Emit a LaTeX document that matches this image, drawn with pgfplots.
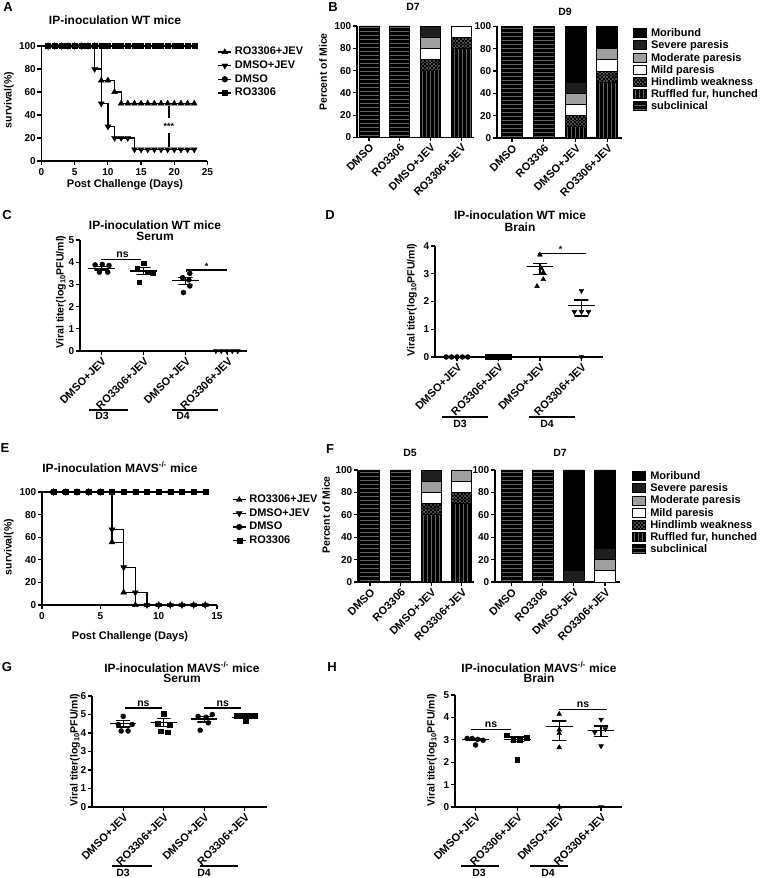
\documentclass[border=0pt]{standalone}
\usepackage{pgfplots}
\pgfplotsset{compat=1.18}
\usepackage{fontspec}
\setmainfont{Liberation Sans}
\newcommand{\fs}[1]{\fontsize{#1}{#1}\selectfont\bfseries}
\newcommand{\ppsw}{\pgfpointanchor{path picture bounding box}{south west}}
\newcommand{\ppse}{\pgfpointanchor{path picture bounding box}{south east}}
\newcommand{\ppnw}{\pgfpointanchor{path picture bounding box}{north west}}
\tikzset{
  hstripes/.style={path picture={%
    \pgfsetlinewidth{0.6pt}\pgfsetstrokecolor{black!62}%
    \foreach \k in {0,...,36}{%
      \pgfpathmoveto{\pgfpointadd{\ppsw}{\pgfpoint{0pt}{\k*4pt+2pt}}}%
      \pgfpathlineto{\pgfpointadd{\ppse}{\pgfpoint{0pt}{\k*4pt+2pt}}}%
      \pgfusepath{stroke}}}},
  vstripes/.style={path picture={%
    \pgfsetlinewidth{0.6pt}\pgfsetstrokecolor{black!62}%
    \foreach \k in {0,...,36}{%
      \pgfpathmoveto{\pgfpointadd{\ppsw}{\pgfpoint{\k*4pt+2pt}{0pt}}}%
      \pgfpathlineto{\pgfpointadd{\ppnw}{\pgfpoint{\k*4pt+2pt}{0pt}}}%
      \pgfusepath{stroke}}}},
  checks/.style={path picture={%
    \pgfsetlinewidth{1.8pt}\pgfsetstrokecolor{black!72}%
    \foreach \k in {0,2,...,66}{%
      \pgfsetdash{{1.8pt}{1.8pt}}{0pt}%
      \pgfpathmoveto{\pgfpointadd{\ppsw}{\pgfpoint{0pt}{\k*1.8pt+0.9pt}}}%
      \pgfpathlineto{\pgfpointadd{\ppse}{\pgfpoint{0pt}{\k*1.8pt+0.9pt}}}%
      \pgfusepath{stroke}}%
    \foreach \k in {1,3,...,67}{%
      \pgfsetdash{{1.8pt}{1.8pt}}{1.8pt}%
      \pgfpathmoveto{\pgfpointadd{\ppsw}{\pgfpoint{0pt}{\k*1.8pt+0.9pt}}}%
      \pgfpathlineto{\pgfpointadd{\ppse}{\pgfpoint{0pt}{\k*1.8pt+0.9pt}}}%
      \pgfusepath{stroke}}}},
}
\pgfplotsset{
  gp/.style={scale only axis, anchor=south west,
    axis x line=bottom, axis y line=left,
    axis line style={line width=1.3pt,-},
    tick style={line width=1.2pt, black},
    major tick length=4pt, tick align=outside, clip=false,
    /pgf/number format/assume math mode=true,
    tick label style={font=\fs{10}},
    yticklabel style={inner sep=1.5pt}},
  surv/.style={gp, ymin=0, ymax=100, ytick={0,20,...,100},
    legend cell align=left,
    legend style={draw=none, fill=none, font=\fs{11}, anchor=north west, inner sep=0pt,
      nodes={inner sep=1pt, text height=7.8pt, text depth=2pt}, row sep=1.8pt, column sep=2pt},
    legend image code/.code={\draw[black, line width=1.3pt] (0pt,0pt) -- (13pt,0pt);
       \draw[#1, sharp plot, mark repeat=1, mark phase=1] plot coordinates {(6.5pt,0pt)};}},
  cur/.style={const plot, line width=1.3pt, black, mark repeat=1, mark phase=2},
  tu/.style={cur, mark=triangle*, mark size=3.4pt, mark options={solid, fill=black, line width=0.4pt}},
  td/.style={cur, mark=triangle*, mark size=3.4pt, mark options={solid, fill=black, line width=0.4pt, rotate=180}},
  ci/.style={cur, mark=*, mark size=2.9pt, mark options={solid, fill=black, line width=0.4pt}},
  sq/.style={cur, mark=square*, mark size=2.5pt, mark options={solid, fill=black, line width=0.4pt}},
  bars/.style={gp, ybar stacked, bar width=20pt, ymin=0, ymax=100, ytick={0,20,...,100},
    xtick={0,1,2,3}, xticklabels={DMSO,RO3306,DMSO+JEV,RO3306+JEV},
    xticklabel style={rotate=45, anchor=north east, inner sep=1pt, font=\fs{11}},
    legend style={draw=none, fill=none, font=\fs{11}, anchor=north west, inner sep=0pt,
      nodes={inner sep=1pt, text height=7.8pt, text depth=2pt}, row sep=0.4pt, column sep=3pt},
    legend cell align=left, reverse legend,
    legend image code/.code={\draw[#1] (0pt,-4pt) rectangle (13pt,5pt);}},
  b/.style={draw=black, line width=0.9pt},
  sub/.style={b, fill=black, hstripes},
  ruf/.style={b, fill=black, vstripes},
  hind/.style={b, fill=black, checks},
  mild/.style={b, fill=white},
  modp/.style={b, fill=gray!75},
  sev/.style={b, fill=black!88},
  mori/.style={b, fill=black},
  scat/.style={gp, ymin=0, xtick={0,1,2,3},
    xticklabels={DMSO+JEV,RO3306+JEV,DMSO+JEV,RO3306+JEV},
    xticklabel style={rotate=45, anchor=north east, inner sep=1pt, font=\fs{11}}},
  pc/.style={only marks, mark=*, mark size=2.5pt, black, mark options={fill=black}},
  ps/.style={only marks, mark=square*, mark size=2.3pt, black, mark options={fill=black}},
  pu/.style={only marks, mark=triangle*, mark size=2.8pt, black, mark options={fill=black}},
  pd/.style={only marks, mark=triangle*, mark size=2.8pt, black, mark options={fill=black, rotate=180}},
  ms/.style={black, line width=1.3pt, mark=none, sharp plot},
}
\begin{document}
\begin{tikzpicture}[x=1pt,y=1pt]
\path[use as bounding box] (0,0) rectangle (760,878);

% ---------------- A ----------------
\begin{axis}[surv, at={(41.5pt,717pt)}, width=166pt, height=115pt, xmin=0, xmax=25, xtick={0,5,...,25},
  legend style={at={(1.06,1.0)}}]
\addplot[tu] coordinates {(0,100)(1,100)(2,100)(3,100)(4,100)(5,100)(6,100)(7,100)(8,100)(9,70)(10,70)(11,60)(12,50)(13,50)(14,50)(15,50)(16,50)(17,50)(18,50)(19,50)(20,50)(21,50)(22,50)(23,50)};
\addlegendentry{RO3306+JEV}
\addplot[td] coordinates {(0,100)(1,100)(2,100)(3,100)(4,100)(5,100)(6,100)(7,100)(8,80)(9,50)(10,30)(11,20)(12,20)(13,20)(14,10)(15,10)(16,10)(17,10)(18,10)(19,10)(20,10)(21,10)(22,10)(23,10)};
\addlegendentry{DMSO+JEV}
\addplot[ci] coordinates {(0,100)(1,100)(2,100)(3,100)(4,100)(5,100)(6,100)(7,100)(8,100)(9,100)(10,100)(11,100)(12,100)(13,100)(14,100)(15,100)(16,100)(17,100)(18,100)(19,100)(20,100)(21,100)(22,100)(23,100)};
\addlegendentry{DMSO}
\addplot[sq] coordinates {(0,100)(1,100)(2,100)(3,100)(4,100)(5,100)(6,100)(7,100)(8,100)(9,100)(10,100)(11,100)(12,100)(13,100)(14,100)(15,100)(16,100)(17,100)(18,100)(19,100)(20,100)(21,100)(22,100)(23,100)};
\addlegendentry{RO3306}
\draw[line width=1.3pt] (axis cs:19.2,48) -- (axis cs:19.2,37);
\draw[line width=1.3pt] (axis cs:19.2,24) -- (axis cs:19.2,12);
\node[font=\fs{9}] at (axis cs:19.2,30) {***};
\end{axis}

% ---------------- B D7 ----------------
\begin{axis}[bars, at={(357pt,740.5pt)}, width=117pt, height=111.5pt, xmin=-0.39, xmax=3.42]
\addplot[sub] coordinates {(0,100)(1,100)(2,0)(3,0)};
\addplot[ruf] coordinates {(0,0)(1,0)(2,60)(3,80)};
\addplot[hind] coordinates {(0,0)(1,0)(2,10)(3,10)};
\addplot[mild] coordinates {(0,0)(1,0)(2,10)(3,10)};
\addplot[modp] coordinates {(0,0)(1,0)(2,10)(3,0)};
\addplot[sev] coordinates {(0,0)(1,0)(2,10)(3,0)};
\addplot[mori] coordinates {(0,0)(1,0)(2,0)(3,0)};
\end{axis}
% ---------------- B D9 ----------------
\begin{axis}[bars, at={(497pt,740pt)}, width=125pt, height=111.5pt, xmin=-0.47, xmax=3.46, bar width=21pt,
  legend style={at={(1.08,0.99)}}]
\addplot[sub] coordinates {(0,100)(1,100)(2,0)(3,0)};
\addlegendentry{subclinical}
\addplot[ruf] coordinates {(0,0)(1,0)(2,10)(3,50)};
\addlegendentry{Ruffled fur, hunched}
\addplot[hind] coordinates {(0,0)(1,0)(2,10)(3,10)};
\addlegendentry{Hindlimb weakness}
\addplot[mild] coordinates {(0,0)(1,0)(2,10)(3,10)};
\addlegendentry{Mild paresis}
\addplot[modp] coordinates {(0,0)(1,0)(2,10)(3,10)};
\addlegendentry{Moderate paresis}
\addplot[sev] coordinates {(0,0)(1,0)(2,10)(3,0)};
\addlegendentry{Severe paresis}
\addplot[mori] coordinates {(0,0)(1,0)(2,50)(3,20)};
\addlegendentry{Moribund}
\end{axis}

% ---------------- C ----------------
\begin{axis}[scat, at={(80pt,527pt)}, width=167pt, height=111pt, xmin=-0.51, xmax=3.46, ymax=5, ytick={0,1,2,3,4,5}]
\addplot[pc] coordinates {(-0.15,3.88)(0.02,3.9)(0.18,3.85)(-0.05,3.55)(0.15,3.55)};
\addplot[ps] coordinates {(1,3.95)(0.85,3.7)(1.1,3.55)(1.22,3.5)(0.9,3.1)};
\addplot[pc] coordinates {(2.1,3.5)(1.93,3.3)(2.08,3.2)(2.1,2.93)(1.95,2.63)};
\addplot[pd] coordinates {(2.72,0)(2.85,0)(2.98,0)(3.11,0)(3.24,0)};
\addplot[ms] coordinates {(-0.17,3.8)(0.17,3.8)(0,3.8)(0,3.65)(-0.17,3.65)(0.17,3.65)(0,3.65)(0,3.72)(-0.32,3.72)(0.32,3.72)};
\addplot[ms] coordinates {(0.83,3.75)(1.17,3.75)(1,3.75)(1,3.45)(0.83,3.45)(1.17,3.45)(1,3.45)(1,3.6)(0.68,3.6)(1.32,3.6)};
\addplot[ms] coordinates {(1.83,3.3)(2.17,3.3)(2,3.3)(2,3.0)(1.83,3.0)(2.17,3.0)(2,3.0)(2,3.17)(1.68,3.17)(2.32,3.17)};
\draw[line width=1.2pt] (axis cs:0,4.13) -- (axis cs:0.95,4.13);
\node[font=\fs{10.5}, anchor=south, inner sep=1.5pt] at (axis cs:0.5,4.13) {ns};
\draw[line width=1.2pt] (axis cs:2.02,3.55) -- (axis cs:2.02,3.65) -- (axis cs:2.98,3.65);
\node[font=\fs{9}, anchor=south, inner sep=0.5pt] at (axis cs:2.5,3.65) {*};
\end{axis}

% ---------------- D ----------------
\begin{axis}[scat, at={(435pt,521pt)}, width=168pt, height=111pt, xmin=-0.53, xmax=3.52, ymax=4, ytick={0,1,2,3,4}]
\addplot[pc] coordinates {(-0.26,0)(-0.13,0)(0,0)(0.13,0)(0.26,0)};
\addplot[ps] coordinates {(0.74,0)(0.87,0)(1,0)(1.13,0)(1.26,0)};
\addplot[pu] coordinates {(2,3.68)(2.03,3.2)(2.08,3.05)(2.08,2.8)(1.93,2.55)};
\addplot[pd] coordinates {(3,2.39)(2.83,1.63)(3,1.63)(3.17,1.63)(3,0)};
\addplot[ms] coordinates {(1.83,3.38)(2.17,3.38)(2,3.38)(2,2.98)(1.83,2.98)(2.17,2.98)(2,2.98)(2,3.25)(1.68,3.25)(2.32,3.25)};
\addplot[ms] coordinates {(2.83,2.05)(3.17,2.05)(3,2.05)(3,1.48)(2.83,1.48)(3.17,1.48)(3,1.48)(3,1.85)(2.68,1.85)(3.32,1.85)};
\draw[line width=1.2pt] (axis cs:1.97,3.64) -- (axis cs:1.97,3.74) -- (axis cs:3.1,3.74);
\node[font=\fs{9}, anchor=south, inner sep=0.5pt] at (axis cs:2.5,3.74) {*};
\end{axis}

% ---------------- E ----------------
\begin{axis}[surv, at={(42pt,273pt)}, width=175pt, height=113pt, xmin=0, xmax=15, xtick={0,5,...,15},
  legend style={at={(1.085,0.985)}}]
\addplot[tu] coordinates {(0,100)(1,100)(2,100)(3,100)(4,100)(5,100)(6,55.6)(7,11.1)(8,0)(9,0)(10,0)(11,0)(12,0)(13,0)(14,0)};
\addlegendentry{RO3306+JEV}
\addplot[td] coordinates {(0,100)(1,100)(2,100)(3,100)(4,100)(5,100)(6,66.7)(7,33.3)(8,11.1)(9,0)(10,0)(11,0)(12,0)(13,0)(14,0)};
\addlegendentry{DMSO+JEV}
\addplot[ci] coordinates {(0,100)(1,100)(2,100)(3,100)(4,100)(5,100)(6,100)(7,100)(8,100)(9,100)(10,100)(11,100)(12,100)(13,100)(14,100)};
\addlegendentry{DMSO}
\addplot[sq] coordinates {(0,100)(1,100)(2,100)(3,100)(4,100)(5,100)(6,100)(7,100)(8,100)(9,100)(10,100)(11,100)(12,100)(13,100)(14,100)};
\addlegendentry{RO3306}
\end{axis}

% ---------------- F D5 ----------------
\begin{axis}[bars, at={(358pt,296pt)}, width=116pt, height=112pt, xmin=-0.39, xmax=3.4]
\addplot[sub] coordinates {(0,100)(1,100)(2,0)(3,0)};
\addplot[ruf] coordinates {(0,0)(1,0)(2,60)(3,70)};
\addplot[hind] coordinates {(0,0)(1,0)(2,10)(3,10)};
\addplot[mild] coordinates {(0,0)(1,0)(2,10)(3,10)};
\addplot[modp] coordinates {(0,0)(1,0)(2,10)(3,10)};
\addplot[sev] coordinates {(0,0)(1,0)(2,10)(3,0)};
\addplot[mori] coordinates {(0,0)(1,0)(2,0)(3,0)};
\end{axis}
% ---------------- F D7 ----------------
\begin{axis}[bars, at={(495pt,296pt)}, width=125pt, height=112pt, xmin=-0.53, xmax=3.48, bar width=21pt,
  legend style={at={(1.09,0.995)}}]
\addplot[sub] coordinates {(0,100)(1,100)(2,0)(3,0)};
\addlegendentry{subclinical}
\addplot[ruf] coordinates {(0,0)(1,0)(2,0)(3,0)};
\addlegendentry{Ruffled fur, hunched}
\addplot[hind] coordinates {(0,0)(1,0)(2,0)(3,0)};
\addlegendentry{Hindlimb weakness}
\addplot[mild] coordinates {(0,0)(1,0)(2,0)(3,10)};
\addlegendentry{Mild paresis}
\addplot[modp] coordinates {(0,0)(1,0)(2,0)(3,10)};
\addlegendentry{Moderate paresis}
\addplot[sev] coordinates {(0,0)(1,0)(2,10)(3,10)};
\addlegendentry{Severe paresis}
\addplot[mori] coordinates {(0,0)(1,0)(2,90)(3,70)};
\addlegendentry{Moribund}
\end{axis}

% ---------------- G ----------------
\begin{axis}[scat, at={(92pt,71pt)}, width=175pt, height=111pt, xmin=-0.77, xmax=3.55, ymax=6, ytick={0,1,2,3,4,5,6}]
\addplot[pc] coordinates {(0,4.9)(-0.12,4.46)(0.22,4.46)(-0.05,4.11)(0.12,4.11)};
\addplot[ps] coordinates {(1,5.05)(0.85,4.5)(1.15,4.45)(0.92,4.1)(1.1,4.05)};
\addplot[pc] coordinates {(2.2,5.0)(1.85,4.9)(2.05,4.85)(2.1,4.55)(1.9,4.15)};
\addplot[ps] coordinates {(2.8,4.95)(2.95,4.95)(3.1,4.95)(3.25,4.92)(3.03,4.68)};
\addplot[ms] coordinates {(-0.17,4.69)(0.17,4.69)(0,4.69)(0,4.33)(-0.17,4.33)(0.17,4.33)(0,4.33)(0,4.51)(-0.32,4.51)(0.32,4.51)};
\addplot[ms] coordinates {(0.83,4.78)(1.17,4.78)(1,4.78)(1,4.35)(0.83,4.35)(1.17,4.35)(1,4.35)(1,4.56)(0.68,4.56)(1.32,4.56)};
\addplot[ms] coordinates {(1.83,4.9)(2.17,4.9)(2,4.9)(2,4.6)(1.83,4.6)(2.17,4.6)(2,4.6)(2,4.75)(1.68,4.75)(2.32,4.75)};
\addplot[ms] coordinates {(2.83,4.92)(3.17,4.92)(3,4.92)(3,4.78)(2.83,4.78)(3.17,4.78)(3,4.78)(3,4.85)(2.68,4.85)(3.32,4.85)};
\draw[line width=1.2pt] (axis cs:0.05,5.35) -- (axis cs:0.95,5.35);
\node[font=\fs{10.5}, anchor=south, inner sep=1.5pt] at (axis cs:0.5,5.35) {ns};
\draw[line width=1.2pt] (axis cs:2.0,5.35) -- (axis cs:2.92,5.35);
\node[font=\fs{10.5}, anchor=south, inner sep=1.5pt] at (axis cs:2.46,5.35) {ns};
\end{axis}

% ---------------- H ----------------
\begin{axis}[scat, at={(455pt,71pt)}, width=167pt, height=112pt, xmin=-0.49, xmax=3.5, ymax=5, ytick={0,1,2,3,4,5}]
\addplot[pc] coordinates {(-0.2,3.06)(-0.08,3.06)(0.05,3.02)(0.18,2.98)(0,2.77)};
\addplot[ps] coordinates {(0.75,3.2)(0.9,3.0)(1.05,2.98)(1.22,3.1)(1.0,2.1)};
\addplot[pu] coordinates {(2,4.15)(2,3.45)(2,3.29)(2,2.66)(2,0)};
\addplot[pd] coordinates {(3,3.91)(2.85,3.33)(3.1,3.48)(3,2.72)(3,0)};
\addplot[ms] coordinates {(-0.17,3.07)(0.17,3.07)(0,3.07)(0,2.97)(-0.17,2.97)(0.17,2.97)(0,2.97)(0,3.02)(-0.32,3.02)(0.32,3.02)};
\addplot[ms] coordinates {(0.83,3.12)(1.17,3.12)(1,3.12)(1,2.93)(0.83,2.93)(1.17,2.93)(1,2.93)(1,3.02)(0.68,3.02)(1.32,3.02)};
\addplot[ms] coordinates {(1.83,3.84)(2.17,3.84)(2,3.84)(2,2.96)(1.83,2.96)(2.17,2.96)(2,2.96)(2,3.59)(1.68,3.59)(2.32,3.59)};
\addplot[ms] coordinates {(2.83,3.62)(3.17,3.62)(3,3.62)(3,3.14)(2.83,3.14)(3.17,3.14)(3,3.14)(3,3.42)(2.68,3.42)(3.32,3.42)};
\draw[line width=1.2pt] (axis cs:-0.11,3.47) -- (axis cs:0.85,3.47);
\node[font=\fs{10.5}, anchor=south, inner sep=1.5pt] at (axis cs:0.37,3.47) {ns};
\draw[line width=1.2pt] (axis cs:2.0,4.37) -- (axis cs:3.14,4.37);
\node[font=\fs{10.5}, anchor=south, inner sep=1.5pt] at (axis cs:2.57,4.37) {ns};
\end{axis}

% ---------------- text ----------------
\begin{scope}[every node/.style={font=\fs{13}}]
\node at (8,871) {A}; \node at (333,871) {B};
\node at (7,663) {C}; \node at (330,663) {D};
\node at (5,430) {E}; \node at (330,429) {F};
\node at (7,211) {G}; \node at (332,211) {H};
\end{scope}
\begin{scope}[every node/.style={font=\fs{12}}]
\node at (115,858) {IP-inoculation WT mice};
\node at (155,653) {IP-inoculation WT mice}; \node at (155,642) {Serum};
\node at (520,663) {IP-inoculation WT mice}; \node at (520,651) {Brain};
\node at (120,411) {IP-inoculation MAVS\textsuperscript{-/-} mice};
\node at (182,211) {IP-inoculation MAVS\textsuperscript{-/-} mice}; \node at (182,199.5) {Serum};
\node at (539,211) {IP-inoculation MAVS\textsuperscript{-/-} mice}; \node at (539,199.5) {Brain};
\end{scope}
\begin{scope}[every node/.style={font=\fs{10.5}}]
\node at (413,871) {D7}; \node at (565,866) {D9};
\node at (410,425) {D5}; \node at (560,425) {D7};
\node at (102,462) {D3}; \node at (183,462) {D4};
\node at (460,454) {D3}; \node at (547,454) {D4};
\node at (123,5) {D3}; \node at (204,5) {D4};
\node at (479,5) {D3}; \node at (548,5) {D4};
\end{scope}
\begin{scope}[every node/.style={font=\fs{11}}]
\node at (125,693) {Post Challenge (Days)};
\node at (130,241) {Post Challenge (Days)};
\end{scope}
\begin{scope}[every node/.style={font=\fs{10.5}, rotate=90}]
\node at (9,778) {survival(\%)};
\node at (9,331) {survival(\%)};
\node at (323,806) {Percent of Mice};
\node at (326,363) {Percent of Mice};
\node at (61,586) {Viral titer(log\textsubscript{10}PFU/ml)};
\node at (412,578) {Viral titer(log\textsubscript{10}PFU/ml)};
\node at (75,128) {Viral titer(log\textsubscript{10}PFU/ml)};
\node at (432,128) {Viral titer(log\textsubscript{10}PFU/ml)};
\end{scope}
\begin{scope}[line width=1.3pt]
\draw (89,468) -- (128,468); \draw (172,468) -- (218,468);
\draw (442,461) -- (488,461); \draw (529,461) -- (575,461);
\draw (112,12) -- (152,12); \draw (200,12) -- (238,12);
\draw (461,12) -- (499,12); \draw (530,12) -- (568,12);
\end{scope}
\end{tikzpicture}
\end{document}
